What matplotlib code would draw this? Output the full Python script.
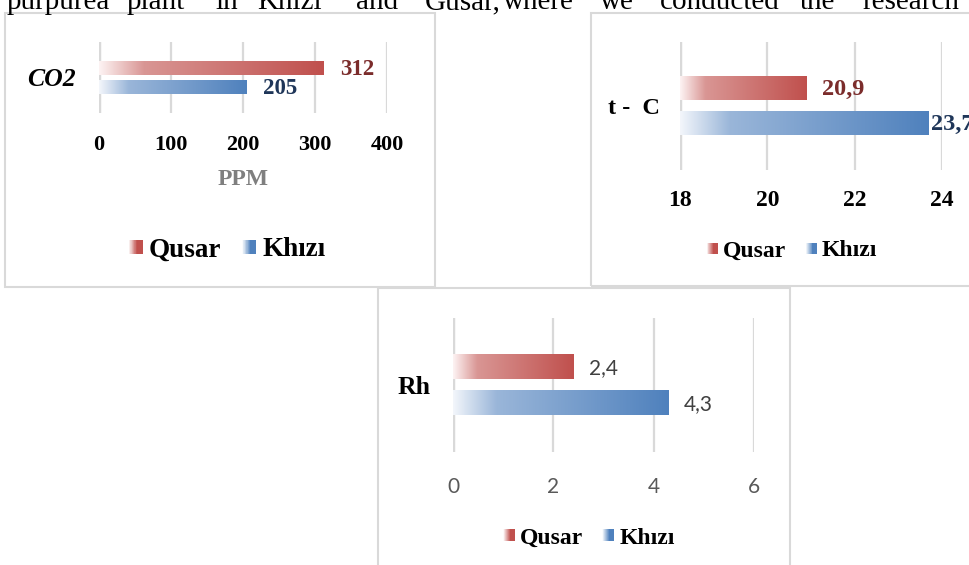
import numpy as np
import matplotlib
matplotlib.use("Agg")
import matplotlib.pyplot as plt
from matplotlib.colors import LinearSegmentedColormap
from matplotlib.patches import Rectangle, Patch
from matplotlib.legend_handler import HandlerBase

# --------- DATA ----------
series = ["Qusar", "Khızı"]
co2_values = [312, 205]
temp_values = [20.9, 23.7]
rh_values = [2.4, 4.3]
co2_ticks = [0, 100, 200, 300, 400]
temp_ticks = [18, 20, 22, 24]
rh_ticks = [0, 2, 4, 6]
header_words = ["purpurea", "plant", "in", "Khızı", "and", "Gusar,", "where",
                "we", "conducted", "the", "research"]
# -------------------------

W, H = 970, 565
SERIF = "Liberation Serif"
SANS = "Lato"

RED = "#c0504d"
BLUE = "#4f81bd"
red_cmap = LinearSegmentedColormap.from_list(
    "r", [(0, "#fdf3f3"), (0.2, "#d99694"), (1, RED)])
blue_cmap = LinearSegmentedColormap.from_list(
    "b", [(0, "#f3f6fb"), (0.2, "#9ab6d9"), (1, BLUE)])
red_swatch = LinearSegmentedColormap.from_list(
    "rs", [(0, "#ffffff"), (0.6, RED), (1, RED)])
blue_swatch = LinearSegmentedColormap.from_list(
    "bs", [(0, "#ffffff"), (0.6, BLUE), (1, BLUE)])


def rect(left, top, right, bottom):
    return [left / W, 1 - bottom / H, (right - left) / W, (bottom - top) / H]


class GradientSwatch(HandlerBase):
    def __init__(self, cmap):
        super().__init__()
        self.cmap = cmap

    def create_artists(self, legend, orig_handle, xdescent, ydescent,
                       width, height, fontsize, trans):
        n = 24
        side = min(width, height)
        y0 = -ydescent + (height - side) / 2
        arts = []
        for i in range(n):
            arts.append(Rectangle((-xdescent + width * i / n, y0),
                                  width / n * 1.08, side,
                                  facecolor=self.cmap((i + 0.5) / n),
                                  edgecolor="none", transform=trans))
        return arts


def fmt(v):
    return f"{v:g}".replace(".", ",")


def bar_chart(fig, pos, values, ticks, category, bar_h, offset,
              tick_font, tick_size, tick_color, tick_pad,
              cat_style, cat_size, cat_pad,
              label_font, label_size, label_colors, label_offsets):
    ax = fig.add_axes(pos)
    xmin, xmax = ticks[0], ticks[-1]
    ys = [offset, -offset]
    cmaps = [red_cmap, blue_cmap]
    grad = np.linspace(0, 1, 256).reshape(1, -1)
    for v, y, cm, col, off in zip(values, ys, cmaps, label_colors, label_offsets):
        ax.imshow(grad, extent=(xmin, v, y - bar_h / 2, y + bar_h / 2),
                  cmap=cm, aspect="auto", interpolation="bilinear", zorder=3)
        ax.annotate(fmt(v), xy=(v, y), xytext=(off * 0.72, -1),
                    textcoords="offset points", va="center", ha="left",
                    fontsize=label_size, color=col, family=label_font,
                    fontweight="bold" if label_font == SERIF else "normal",
                    annotation_clip=False)
    ax.set_xlim(xmin, xmax)
    ax.set_ylim(-0.5, 0.5)
    ax.set_xticks(ticks)
    ax.set_xticklabels([str(t) for t in ticks], family=tick_font,
                       fontsize=tick_size, color=tick_color,
                       fontweight="bold" if tick_font == SERIF else "normal")
    ax.set_yticks([0])
    ax.set_yticklabels([category], family=SERIF, fontsize=cat_size,
                       fontweight="bold", style=cat_style, color="black")
    ax.tick_params(axis="x", length=0, pad=tick_pad)
    ax.tick_params(axis="y", length=0, pad=cat_pad)
    for s in ax.spines.values():
        s.set_visible(False)
    for t in ticks[1:]:
        ax.axvline(t, color="#d9d9d9", lw=1.6, zorder=1)
    ax.axvline(xmin, color="#d9d9d9", lw=3.2, zorder=1)
    ax.patch.set_alpha(0)
    return ax


def add_legend(fig, cx, cy, size, hl, tp, cs):
    handles = [Patch(label=series[0]), Patch(label=series[1])]
    fig.legend(handles, series, loc="center", ncol=2, frameon=False,
               bbox_to_anchor=(cx / W, 1 - cy / H),
               handler_map={handles[0]: GradientSwatch(red_swatch),
                            handles[1]: GradientSwatch(blue_swatch)},
               prop={"family": SERIF, "weight": "bold", "size": size},
               handlelength=hl, handleheight=hl, handletextpad=tp,
               columnspacing=cs, borderpad=0)


fig = plt.figure(figsize=(W / 100, H / 100), dpi=100)
fig.patch.set_facecolor("white")

# header text line (cut at top of page)
word_x = [7, 127, 215, 257, 356, 425, 503, 600, 660, 800, 862]
for w, x in zip(header_words, word_x):
    fig.text(x / W, 1 - 9 / H, w, family=SERIF, fontsize=21,
             va="baseline", ha="left")

# chart frames
for x0, y0, x1, y1 in [(5, 13, 435, 287), (591, 13, 985, 286),
                       (378, 288, 790, 580)]:
    fig.add_artist(Rectangle((x0 / W, 1 - y1 / H), (x1 - x0) / W,
                             (y1 - y0) / H, transform=fig.transFigure,
                             fill=False, edgecolor="#d9d9d9", lw=1.5))

# CO2
ax1 = bar_chart(fig, rect(99, 42, 387, 113), co2_values, co2_ticks, "CO2",
                0.197, 0.137, SERIF, 16, "black", 16,
                "italic", 18.5, 17,
                SERIF, 16.5, ["#7b2c2b", "#1f3659"], [16, 16])
ax1.set_xlabel("PPM", family=SERIF, fontsize=17, fontweight="bold",
               color="#7f7f7f", labelpad=10)
add_legend(fig, 227, 250, 19.5, 0.52, 0.22, 0.78)

# temperature
bar_chart(fig, rect(680, 42, 942, 170), temp_values, temp_ticks, "t -  C",
          0.18, 0.137, SERIF, 17, "black", 14.5,
          "normal", 17.5, 14.5,
          SERIF, 17.5, ["#7b2c2b", "#1f3659"], [15, 2])
add_legend(fig, 792, 251, 17, 0.47, 0.21, 0.85)

# humidity
bar_chart(fig, rect(453, 318, 754, 452), rh_values, rh_ticks, "Rh",
          0.18, 0.134, SANS, 15, "#595959", 18,
          "normal", 18.5, 16.5,
          SANS, 15, ["#404040", "#404040"], [16, 15])
add_legend(fig, 589, 538, 17, 0.5, 0.21, 0.8)

fig.savefig("out.png", dpi=100)
